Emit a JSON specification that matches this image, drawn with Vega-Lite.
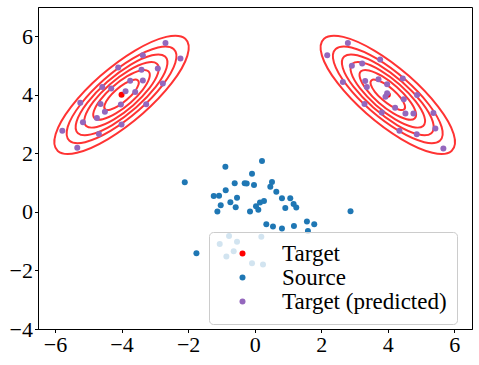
{
  "$schema": "https://vega.github.io/schema/vega-lite/v6.json",
  "width": 434,
  "height": 322,
  "autosize": {"type": "none"},
  "padding": {"left": 38, "top": 7, "right": 7, "bottom": 36},
  "config": {
    "font": "Liberation Serif",
    "view": {"stroke": "black", "strokeWidth": 1},
    "axis": {"grid": false, "domainColor": "black", "tickColor": "black", "tickSize": 3.5, "labelFont": "Liberation Serif", "labelFontSize": 22, "labelColor": "black", "labelPadding": 2, "title": null}
  },
  "datasets": {
    "ellipses": [
      {"g":"L1","i":0,"x":-2.084,"y":5.916},{"g":"L1","i":1,"x":-2.660,"y":5.979},{"g":"L1","i":2,"x":-3.595,"y":5.511},{"g":"L1","i":3,"x":-4.639,"y":4.639},{"g":"L1","i":4,"x":-5.511,"y":3.595},{"g":"L1","i":5,"x":-5.979,"y":2.660},{"g":"L1","i":6,"x":-5.916,"y":2.084},{"g":"L1","i":7,"x":-5.340,"y":2.021},{"g":"L1","i":8,"x":-4.405,"y":2.489},{"g":"L1","i":9,"x":-3.361,"y":3.361},{"g":"L1","i":10,"x":-2.489,"y":4.405},{"g":"L1","i":11,"x":-2.021,"y":5.340},
      {"g":"L2","i":0,"x":-2.435,"y":5.565},{"g":"L2","i":1,"x":-2.905,"y":5.617},{"g":"L2","i":2,"x":-3.669,"y":5.234},{"g":"L2","i":3,"x":-4.522,"y":4.522},{"g":"L2","i":4,"x":-5.234,"y":3.669},{"g":"L2","i":5,"x":-5.617,"y":2.905},{"g":"L2","i":6,"x":-5.565,"y":2.435},{"g":"L2","i":7,"x":-5.095,"y":2.383},{"g":"L2","i":8,"x":-4.331,"y":2.766},{"g":"L2","i":9,"x":-3.478,"y":3.478},{"g":"L2","i":10,"x":-2.766,"y":4.331},{"g":"L2","i":11,"x":-2.383,"y":5.095},
      {"g":"L3","i":0,"x":-2.691,"y":5.309},{"g":"L3","i":1,"x":-3.084,"y":5.352},{"g":"L3","i":2,"x":-3.723,"y":5.032},{"g":"L3","i":3,"x":-4.436,"y":4.436},{"g":"L3","i":4,"x":-5.032,"y":3.723},{"g":"L3","i":5,"x":-5.352,"y":3.084},{"g":"L3","i":6,"x":-5.309,"y":2.691},{"g":"L3","i":7,"x":-4.916,"y":2.648},{"g":"L3","i":8,"x":-4.277,"y":2.968},{"g":"L3","i":9,"x":-3.564,"y":3.564},{"g":"L3","i":10,"x":-2.968,"y":4.277},{"g":"L3","i":11,"x":-2.648,"y":4.916},
      {"g":"L4","i":0,"x":-2.937,"y":5.063},{"g":"L4","i":1,"x":-3.257,"y":5.097},{"g":"L4","i":2,"x":-3.775,"y":4.838},{"g":"L4","i":3,"x":-4.354,"y":4.354},{"g":"L4","i":4,"x":-4.838,"y":3.775},{"g":"L4","i":5,"x":-5.097,"y":3.257},{"g":"L4","i":6,"x":-5.063,"y":2.937},{"g":"L4","i":7,"x":-4.743,"y":2.903},{"g":"L4","i":8,"x":-4.225,"y":3.162},{"g":"L4","i":9,"x":-3.646,"y":3.646},{"g":"L4","i":10,"x":-3.162,"y":4.225},{"g":"L4","i":11,"x":-2.903,"y":4.743},
      {"g":"L5","i":0,"x":-3.194,"y":4.806},{"g":"L5","i":1,"x":-3.436,"y":4.833},{"g":"L5","i":2,"x":-3.830,"y":4.636},{"g":"L5","i":3,"x":-4.269,"y":4.269},{"g":"L5","i":4,"x":-4.636,"y":3.830},{"g":"L5","i":5,"x":-4.833,"y":3.436},{"g":"L5","i":6,"x":-4.806,"y":3.194},{"g":"L5","i":7,"x":-4.564,"y":3.167},{"g":"L5","i":8,"x":-4.170,"y":3.364},{"g":"L5","i":9,"x":-3.731,"y":3.731},{"g":"L5","i":10,"x":-3.364,"y":4.170},{"g":"L5","i":11,"x":-3.167,"y":4.564},
      {"g":"L6","i":0,"x":-3.507,"y":4.493},{"g":"L6","i":1,"x":-3.655,"y":4.509},{"g":"L6","i":2,"x":-3.896,"y":4.389},{"g":"L6","i":3,"x":-4.164,"y":4.164},{"g":"L6","i":4,"x":-4.389,"y":3.896},{"g":"L6","i":5,"x":-4.509,"y":3.655},{"g":"L6","i":6,"x":-4.493,"y":3.507},{"g":"L6","i":7,"x":-4.345,"y":3.491},{"g":"L6","i":8,"x":-4.104,"y":3.611},{"g":"L6","i":9,"x":-3.836,"y":3.836},{"g":"L6","i":10,"x":-3.611,"y":4.104},{"g":"L6","i":11,"x":-3.491,"y":4.345},
      {"g":"R1","i":0,"x":2.084,"y":5.916},{"g":"R1","i":1,"x":2.660,"y":5.979},{"g":"R1","i":2,"x":3.595,"y":5.511},{"g":"R1","i":3,"x":4.639,"y":4.639},{"g":"R1","i":4,"x":5.511,"y":3.595},{"g":"R1","i":5,"x":5.979,"y":2.660},{"g":"R1","i":6,"x":5.916,"y":2.084},{"g":"R1","i":7,"x":5.340,"y":2.021},{"g":"R1","i":8,"x":4.405,"y":2.489},{"g":"R1","i":9,"x":3.361,"y":3.361},{"g":"R1","i":10,"x":2.489,"y":4.405},{"g":"R1","i":11,"x":2.021,"y":5.340},
      {"g":"R2","i":0,"x":2.435,"y":5.565},{"g":"R2","i":1,"x":2.905,"y":5.617},{"g":"R2","i":2,"x":3.669,"y":5.234},{"g":"R2","i":3,"x":4.522,"y":4.522},{"g":"R2","i":4,"x":5.234,"y":3.669},{"g":"R2","i":5,"x":5.617,"y":2.905},{"g":"R2","i":6,"x":5.565,"y":2.435},{"g":"R2","i":7,"x":5.095,"y":2.383},{"g":"R2","i":8,"x":4.331,"y":2.766},{"g":"R2","i":9,"x":3.478,"y":3.478},{"g":"R2","i":10,"x":2.766,"y":4.331},{"g":"R2","i":11,"x":2.383,"y":5.095},
      {"g":"R3","i":0,"x":2.691,"y":5.309},{"g":"R3","i":1,"x":3.084,"y":5.352},{"g":"R3","i":2,"x":3.723,"y":5.032},{"g":"R3","i":3,"x":4.436,"y":4.436},{"g":"R3","i":4,"x":5.032,"y":3.723},{"g":"R3","i":5,"x":5.352,"y":3.084},{"g":"R3","i":6,"x":5.309,"y":2.691},{"g":"R3","i":7,"x":4.916,"y":2.648},{"g":"R3","i":8,"x":4.277,"y":2.968},{"g":"R3","i":9,"x":3.564,"y":3.564},{"g":"R3","i":10,"x":2.968,"y":4.277},{"g":"R3","i":11,"x":2.648,"y":4.916},
      {"g":"R4","i":0,"x":2.937,"y":5.063},{"g":"R4","i":1,"x":3.257,"y":5.097},{"g":"R4","i":2,"x":3.775,"y":4.838},{"g":"R4","i":3,"x":4.354,"y":4.354},{"g":"R4","i":4,"x":4.838,"y":3.775},{"g":"R4","i":5,"x":5.097,"y":3.257},{"g":"R4","i":6,"x":5.063,"y":2.937},{"g":"R4","i":7,"x":4.743,"y":2.903},{"g":"R4","i":8,"x":4.225,"y":3.162},{"g":"R4","i":9,"x":3.646,"y":3.646},{"g":"R4","i":10,"x":3.162,"y":4.225},{"g":"R4","i":11,"x":2.903,"y":4.743},
      {"g":"R5","i":0,"x":3.194,"y":4.806},{"g":"R5","i":1,"x":3.436,"y":4.833},{"g":"R5","i":2,"x":3.830,"y":4.636},{"g":"R5","i":3,"x":4.269,"y":4.269},{"g":"R5","i":4,"x":4.636,"y":3.830},{"g":"R5","i":5,"x":4.833,"y":3.436},{"g":"R5","i":6,"x":4.806,"y":3.194},{"g":"R5","i":7,"x":4.564,"y":3.167},{"g":"R5","i":8,"x":4.170,"y":3.364},{"g":"R5","i":9,"x":3.731,"y":3.731},{"g":"R5","i":10,"x":3.364,"y":4.170},{"g":"R5","i":11,"x":3.167,"y":4.564},
      {"g":"R6","i":0,"x":3.507,"y":4.493},{"g":"R6","i":1,"x":3.655,"y":4.509},{"g":"R6","i":2,"x":3.896,"y":4.389},{"g":"R6","i":3,"x":4.164,"y":4.164},{"g":"R6","i":4,"x":4.389,"y":3.896},{"g":"R6","i":5,"x":4.509,"y":3.655},{"g":"R6","i":6,"x":4.493,"y":3.507},{"g":"R6","i":7,"x":4.345,"y":3.491},{"g":"R6","i":8,"x":4.104,"y":3.611},{"g":"R6","i":9,"x":3.836,"y":3.836},{"g":"R6","i":10,"x":3.611,"y":4.104},{"g":"R6","i":11,"x":3.491,"y":4.345}
    ],
    "points": [
      {"series":"Target","x":-4.0,"y":4.0},{"series":"Target","x":4.0,"y":4.0},
      {"series":"Source","x":-2.10,"y":1.01},{"series":"Source","x":-0.88,"y":1.54},{"series":"Source","x":0.22,"y":1.74},{"series":"Source","x":-0.08,"y":1.30},{"series":"Source","x":-0.60,"y":0.98},{"series":"Source","x":-0.30,"y":0.98},{"series":"Source","x":-0.24,"y":0.97},{"series":"Source","x":-0.02,"y":0.92},{"series":"Source","x":0.52,"y":1.02},{"series":"Source","x":0.47,"y":0.86},{"series":"Source","x":0.65,"y":0.69},{"series":"Source","x":-0.87,"y":0.74},{"series":"Source","x":-1.23,"y":0.54},{"series":"Source","x":-1.07,"y":0.55},{"series":"Source","x":-0.53,"y":0.48},{"series":"Source","x":-0.73,"y":0.33},{"series":"Source","x":-1.02,"y":0.23},{"series":"Source","x":-0.57,"y":0.16},{"series":"Source","x":-1.12,"y":0.01},{"series":"Source","x":-0.14,"y":0.01},{"series":"Source","x":0.04,"y":0.19},{"series":"Source","x":0.16,"y":0.32},{"series":"Source","x":0.28,"y":0.37},{"series":"Source","x":0.11,"y":0.07},{"series":"Source","x":0.82,"y":0.47},{"series":"Source","x":1.07,"y":0.47},{"series":"Source","x":1.17,"y":0.27},{"series":"Source","x":1.25,"y":0.15},{"series":"Source","x":0.92,"y":0.13},{"series":"Source","x":2.88,"y":0.02},{"series":"Source","x":0.35,"y":-0.42},{"series":"Source","x":0.55,"y":-0.50},{"series":"Source","x":0.82,"y":-0.57},{"series":"Source","x":1.18,"y":-0.48},{"series":"Source","x":1.57,"y":-0.33},{"series":"Source","x":1.79,"y":-0.42},{"series":"Source","x":1.60,"y":-0.65},{"series":"Source","x":-1.75,"y":-1.41},{"series":"Source","x":-0.77,"y":-0.82},{"series":"Source","x":0.20,"y":-0.85},{"series":"Source","x":-1.05,"y":-1.10},{"series":"Source","x":-0.53,"y":-1.02},{"series":"Source","x":-0.63,"y":-1.34},{"series":"Source","x":-0.85,"y":-1.52},{"series":"Source","x":-0.08,"y":-1.75},{"series":"Source","x":0.25,"y":-1.80},
      {"series":"Target (predicted)","x":-2.68,"y":5.77},{"series":"Target (predicted)","x":-2.23,"y":5.24},{"series":"Target (predicted)","x":-3.36,"y":5.35},{"series":"Target (predicted)","x":-4.10,"y":4.93},{"series":"Target (predicted)","x":-3.40,"y":4.86},{"series":"Target (predicted)","x":-2.91,"y":4.90},{"series":"Target (predicted)","x":-4.58,"y":4.27},{"series":"Target (predicted)","x":-4.31,"y":4.22},{"series":"Target (predicted)","x":-3.74,"y":4.48},{"series":"Target (predicted)","x":-3.36,"y":4.49},{"series":"Target (predicted)","x":-2.76,"y":4.39},{"series":"Target (predicted)","x":-3.88,"y":4.12},{"series":"Target (predicted)","x":-3.59,"y":4.10},{"series":"Target (predicted)","x":-5.24,"y":3.73},{"series":"Target (predicted)","x":-4.63,"y":3.69},{"series":"Target (predicted)","x":-4.02,"y":3.67},{"series":"Target (predicted)","x":-3.26,"y":3.68},{"series":"Target (predicted)","x":-4.50,"y":3.42},{"series":"Target (predicted)","x":-4.74,"y":3.21},{"series":"Target (predicted)","x":-5.16,"y":3.06},{"series":"Target (predicted)","x":-4.00,"y":2.99},{"series":"Target (predicted)","x":-5.78,"y":2.77},{"series":"Target (predicted)","x":-4.68,"y":2.66},{"series":"Target (predicted)","x":-5.33,"y":2.19},
      {"series":"Target (predicted)","x":2.80,"y":5.77},{"series":"Target (predicted)","x":2.18,"y":5.35},{"series":"Target (predicted)","x":3.77,"y":5.21},{"series":"Target (predicted)","x":2.92,"y":4.99},{"series":"Target (predicted)","x":3.23,"y":5.07},{"series":"Target (predicted)","x":2.65,"y":4.44},{"series":"Target (predicted)","x":3.32,"y":4.47},{"series":"Target (predicted)","x":3.72,"y":4.53},{"series":"Target (predicted)","x":4.45,"y":4.56},{"series":"Target (predicted)","x":3.37,"y":4.27},{"series":"Target (predicted)","x":3.98,"y":4.36},{"series":"Target (predicted)","x":3.98,"y":4.05},{"series":"Target (predicted)","x":3.93,"y":3.93},{"series":"Target (predicted)","x":4.48,"y":3.85},{"series":"Target (predicted)","x":4.88,"y":3.99},{"series":"Target (predicted)","x":3.30,"y":3.69},{"series":"Target (predicted)","x":4.22,"y":3.56},{"series":"Target (predicted)","x":3.82,"y":3.40},{"series":"Target (predicted)","x":4.53,"y":3.36},{"series":"Target (predicted)","x":4.77,"y":3.36},{"series":"Target (predicted)","x":5.37,"y":3.38},{"series":"Target (predicted)","x":4.35,"y":2.77},{"series":"Target (predicted)","x":4.87,"y":2.65},{"series":"Target (predicted)","x":5.43,"y":2.85},{"series":"Target (predicted)","x":5.67,"y":2.17}
    ]
  },
  "layer": [
    {
      "data": {"name": "ellipses"},
      "mark": {"type": "line", "interpolate": "cardinal-closed", "color": "red", "opacity": 0.8, "strokeWidth": 2},
      "encoding": {
        "x": {"field": "x", "type": "quantitative", "scale": {"domain": [-6.51, 6.53], "nice": false, "zero": false}, "axis": {"values": [-6, -4, -2, 0, 2, 4, 6]}},
        "y": {"field": "y", "type": "quantitative", "scale": {"domain": [-4, 7], "nice": false, "zero": false}, "axis": {"values": [-4, -2, 0, 2, 4, 6]}},
        "detail": {"field": "g"},
        "order": {"field": "i", "type": "quantitative"}
      }
    },
    {
      "data": {"name": "points"},
      "mark": {"type": "point", "filled": true, "opacity": 1, "size": 36, "shape": "circle"},
      "encoding": {
        "x": {"field": "x", "type": "quantitative"},
        "y": {"field": "y", "type": "quantitative"},
        "color": {
          "field": "series", "type": "nominal",
          "scale": {"domain": ["Target", "Source", "Target (predicted)"], "range": ["#ff0000", "#1f77b4", "#9467bd"]},
          "legend": {"title": null, "orient": "none", "legendX": 171, "legendY": 225, "fillColor": "rgba(255,255,255,0.8)", "strokeColor": "#cccccc", "cornerRadius": 4, "padding": 10, "symbolType": "circle", "symbolSize": 36, "symbolOffset": 12, "labelOffset": 28, "labelFont": "Liberation Serif", "labelFontSize": 23, "labelColor": "black", "rowPadding": 0, "labelLimit": 0, "symbolStrokeWidth": 0}
        }
      }
    }
  ]
}
